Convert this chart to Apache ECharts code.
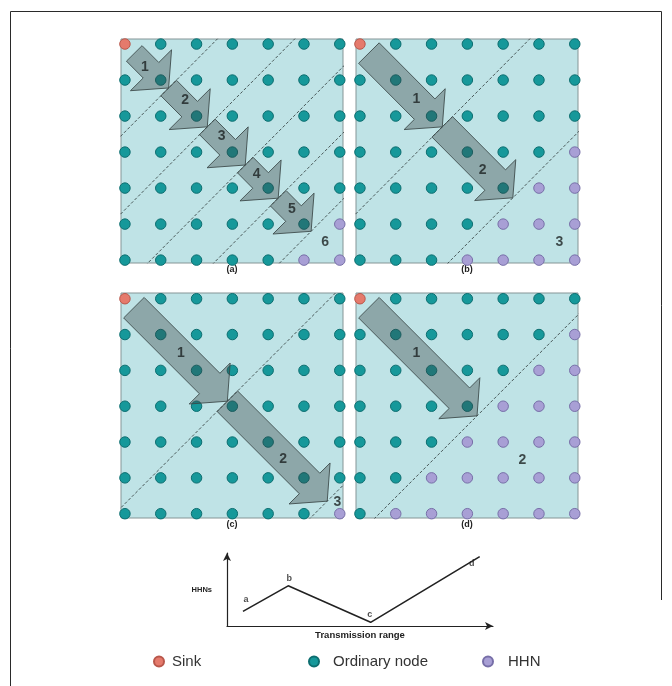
<!DOCTYPE html>
<html><head><meta charset="utf-8">
<script src="https://cdn.jsdelivr.net/npm/echarts@6/dist/echarts.min.js"></script>
<style>html,body{margin:0;padding:0;background:#fff}#c{width:672px;height:686px}</style>
</head><body><div id="c"></div>
<script>
// ---------- data ----------
const gridCols = [0, 1, 2, 3, 4, 5, 6];
const gridRows = [0, 1, 2, 3, 4, 5, 6];
const sinkNodes = [[0, 0]];
const hhnA = [[6, 5], [5, 6], [6, 6]];
const hhnB = [[6, 3], [5, 4], [6, 4], [4, 5], [5, 5], [6, 5], [3, 6], [4, 6], [5, 6], [6, 6]];
const hhnC = [[6, 6]];
const hhnD = [[6, 1], [5, 2], [6, 2], [4, 3], [5, 3], [6, 3], [3, 4], [4, 4], [5, 4], [6, 4],
  [2, 5], [3, 5], [4, 5], [5, 5], [6, 5], [1, 6], [2, 6], [3, 6], [4, 6], [5, 6], [6, 6]];
// zone boundaries, as position t along the diagonal (line x + y = 2t)
const zonesA = [1.22, 2.3, 3.36, 4.28, 5.2];
const zonesB = [2.3, 4.27];
const zonesC = [2.86, 5.65];
const zonesD = [3.27];
// arrows [from t, to t] along the diagonal
const arrowsA = [[0.26, 1.22], [1.22, 2.3], [2.3, 3.36], [3.36, 4.28], [4.28, 5.2]];
const arrowsB = [[0.25, 2.3], [2.3, 4.27]];
const arrowsC = [[0.25, 2.86], [2.86, 5.65]];
const arrowsD = [[0.25, 3.27]];
// hop numbers [text, col, row]
const hopsA = [['1', 0.56, 0.63], ['2', 1.68, 1.56], ['3', 2.7, 2.57], ['4', 3.68, 3.6], ['5', 4.66, 4.59], ['6', 5.59, 5.49]];
const hopsB = [['1', 1.58, 1.52], ['2', 3.43, 3.5], ['3', 5.57, 5.49]];
const hopsC = [['1', 1.56, 1.52], ['2', 4.42, 4.47], ['3', 5.93, 5.68]];
const hopsD = [['1', 1.58, 1.52], ['2', 4.54, 4.5]];
const panelNames = ['(a)', '(b)', '(c)', '(d)'];
// HHNs vs transmission range sketch
const curveNames = ['a', 'b', 'c', 'd'];
const curveX = [6, 23, 54, 95];
const curveY = [20, 55, 5, 95];

// ---------- styles ----------
const FONT = 'Liberation Sans, Arial, sans-serif';
const SINK_COLOR = '#e57a6c', ORD_COLOR = '#16989a', HHN_COLOR = '#a89fd5';
const HEAD_LEN = 25, HEAD_HALF = 29;
const gridBoxes = [
  {left: 121, top: 39, width: 222, height: 224},
  {left: 356, top: 39, width: 222, height: 224},
  {left: 121, top: 293, width: 222, height: 225},
  {left: 356, top: 293, width: 222, height: 225}
];
const yRanges = [[-0.14, 6.08], [-0.14, 6.08], [-0.16, 6.12], [-0.16, 6.12]];
const shaftHalf = [11, 14.5, 14.5, 14.5];

const panels = [
  {hhn: hhnA, zones: zonesA, arrows: arrowsA, hops: hopsA},
  {hhn: hhnB, zones: zonesB, arrows: arrowsB, hops: hopsB},
  {hhn: hhnC, zones: zonesC, arrows: arrowsC, hops: hopsC},
  {hhn: hhnD, zones: zonesD, arrows: arrowsD, hops: hopsD}
];

const has = (list, c, r) => list.some(p => p[0] === c && p[1] === r);

const grid = [], xAxis = [], yAxis = [], series = [];
panels.forEach((p, i) => {
  grid.push(Object.assign({show: true, backgroundColor: '#bfe3e6', borderColor: '#859596', borderWidth: 1}, gridBoxes[i]));
  xAxis.push({type: 'value', gridIndex: i, min: -0.11, max: 6.09, axisLine: {show: false}, axisTick: {show: false},
    axisLabel: {show: false}, splitLine: {show: false},
    name: panelNames[i], nameLocation: 'middle', nameGap: 2,
    nameTextStyle: {fontSize: 9, fontWeight: 'bold', color: '#222', fontFamily: FONT, verticalAlign: 'top'}});
  yAxis.push({type: 'value', gridIndex: i, inverse: true, min: yRanges[i][0], max: yRanges[i][1], show: false});
  const sink = [], ord = [], hhn = [];
  gridRows.forEach(r => gridCols.forEach(c => {
    if (has(sinkNodes, c, r)) sink.push([c, r]);
    else if (has(p.hhn, c, r)) hhn.push([c, r]);
    else ord.push([c, r]);
  }));
  const nodeSeries = (name, data, color, border) => ({
    type: 'scatter', name, xAxisIndex: i, yAxisIndex: i, data, symbolSize: 10.5, z: 3,
    itemStyle: {color, borderColor: border, borderWidth: 1, opacity: 1}, silent: true
  });
  series.push(nodeSeries('Sink', sink, SINK_COLOR, '#b9574b'));
  series.push(nodeSeries('Ordinary node', ord, ORD_COLOR, '#0d6e70'));
  series.push(nodeSeries('HHN', hhn, HHN_COLOR, '#776fa8'));
  p.zones.forEach(t => {
    series.push({type: 'line', xAxisIndex: i, yAxisIndex: i, data: [[-8, 2 * t + 8], [2 * t + 8, -8]],
      symbol: 'none', clip: true, z: 2, silent: true,
      lineStyle: {color: '#3b4848', width: 0.9, type: [3, 2]}});
  });
  const halfW = shaftHalf[i];
  series.push({
    type: 'custom', xAxisIndex: i, yAxisIndex: i, z: 5, silent: true, clip: false,
    data: p.arrows.map(a => [a[0], a[1]]),
    renderItem: (params, api) => {
      const t0 = api.value(0), t1 = api.value(1);
      const p0 = api.coord([t0, t0]), p1 = api.coord([t1, t1]);
      const dx = p1[0] - p0[0], dy = p1[1] - p0[1], len = Math.hypot(dx, dy);
      const ux = dx / len, uy = dy / len, nx = -uy, ny = ux;
      const hb = [p1[0] - ux * HEAD_LEN, p1[1] - uy * HEAD_LEN];
      const pt = (b, s) => [b[0] + nx * s, b[1] + ny * s];
      return {type: 'polygon',
        shape: {points: [pt(p0, halfW), pt(hb, halfW), pt(hb, HEAD_HALF), p1, pt(hb, -HEAD_HALF), pt(hb, -halfW), pt(p0, -halfW)]},
        style: {fill: 'rgba(52,60,60,0.36)', stroke: 'rgba(58,70,70,0.85)', lineWidth: 1}};
    }
  });
  series.push({type: 'scatter', xAxisIndex: i, yAxisIndex: i, z: 6, silent: true, symbolSize: 0,
    data: p.hops.map(h => [h[1], h[2], h[0]]),
    label: {show: true, position: 'inside', formatter: d => d.value[2], fontSize: 14, fontWeight: 'bold',
      color: '#1c2222', fontFamily: FONT}});
});

// bottom sketch chart
grid.push({left: 227, top: 553, width: 266, height: 73});
const axisCommon = {axisTick: {show: false}, axisLabel: {show: false}, splitLine: {show: false},
  axisLine: {show: true, symbol: ['none', 'arrow'], symbolSize: [6, 8], lineStyle: {color: '#222', width: 1.2}}};
xAxis.push(Object.assign({type: 'value', gridIndex: 4, min: 0, max: 100, name: 'Transmission range',
  nameLocation: 'middle', nameGap: 4,
  nameTextStyle: {fontSize: 9.5, fontWeight: 'bold', color: '#222', fontFamily: FONT}}, axisCommon));
yAxis.push(Object.assign({type: 'value', gridIndex: 4, min: 0, max: 100, name: 'HHNs', nameLocation: 'middle',
  nameRotate: 0, nameGap: 15,
  nameTextStyle: {fontSize: 7.5, fontWeight: 'bold', color: '#222', fontFamily: FONT}}, axisCommon));
series.push({type: 'line', xAxisIndex: 4, yAxisIndex: 4, data: curveX.map((x, k) => [x, curveY[k]]),
  symbol: 'none', silent: true, lineStyle: {color: '#222', width: 1.6}});
const curveLabelOffsets = [[3, -12], [1, -7], [-1, -8], [-8, 7]];
series.push({type: 'scatter', xAxisIndex: 4, yAxisIndex: 4, symbolSize: 0, silent: true,
  data: curveX.map((x, k) => ({value: [x, curveY[k], curveNames[k]],
    label: {offset: curveLabelOffsets[k]}})),
  label: {show: true, position: 'inside', formatter: d => d.value[2], fontSize: 9, fontWeight: 'bold',
    color: '#222', fontFamily: FONT}});

const legendBase = {orient: 'horizontal', top: 654, padding: 0, itemWidth: 10, itemHeight: 10, icon: 'circle',
  selectedMode: false, textStyle: {fontSize: 15, color: '#333', fontFamily: FONT, padding: [0, 0, 0, 3]}};
const legend = [
  Object.assign({}, legendBase, {left: 153, data: ['Sink']}),
  Object.assign({}, legendBase, {left: 308, data: ['Ordinary node'], textStyle: Object.assign({}, legendBase.textStyle, {padding: [0, 0, 0, 9]})}),
  Object.assign({}, legendBase, {left: 482, data: ['HHN'], textStyle: Object.assign({}, legendBase.textStyle, {padding: [0, 0, 0, 10]})})
];

const chart = echarts.init(document.getElementById('c'));
chart.setOption({
  animation: false,
  backgroundColor: '#fff',
  grid, xAxis, yAxis, series, legend,
  graphic: [
    {type: 'line', shape: {x1: 10.5, y1: 11.5, x2: 661.5, y2: 11.5}, style: {stroke: '#2a2a2a', lineWidth: 1}, silent: true},
    {type: 'line', shape: {x1: 10.5, y1: 11.5, x2: 10.5, y2: 686}, style: {stroke: '#2a2a2a', lineWidth: 1}, silent: true},
    {type: 'line', shape: {x1: 661.5, y1: 11.5, x2: 661.5, y2: 600}, style: {stroke: '#2a2a2a', lineWidth: 1}, silent: true}
  ]
});
</script></body></html>
